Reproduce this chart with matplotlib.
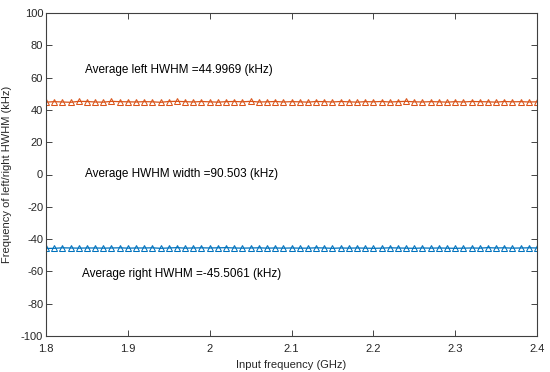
import numpy as np
import matplotlib
matplotlib.use("Agg")
import matplotlib.pyplot as plt

plt.rcParams['font.family'] = ['Liberation Sans', 'DejaVu Sans']
plt.rcParams['axes.unicode_minus'] = False

freq_ghz = [1.80, 1.81, 1.82, 1.83, 1.84, 1.85, 1.86, 1.87, 1.88, 1.89,
            1.90, 1.91, 1.92, 1.93, 1.94, 1.95, 1.96, 1.97, 1.98, 1.99,
            2.00, 2.01, 2.02, 2.03, 2.04, 2.05, 2.06, 2.07, 2.08, 2.09,
            2.10, 2.11, 2.12, 2.13, 2.14, 2.15, 2.16, 2.17, 2.18, 2.19,
            2.20, 2.21, 2.22, 2.23, 2.24, 2.25, 2.26, 2.27, 2.28, 2.29,
            2.30, 2.31, 2.32, 2.33, 2.34, 2.35, 2.36, 2.37, 2.38, 2.39, 2.40]

left_hwhm = [44.8, 45.1, 44.9, 44.7, 45.3, 45.2, 44.9, 44.8, 45.3, 45.1,
             45.0, 44.9, 45.1, 45.0, 44.7, 45.2, 45.3, 45.1, 44.9, 45.2,
             45.0, 44.8, 45.1, 45.2, 45.0, 45.3, 44.9, 45.0, 45.2, 44.9,
             45.1, 45.0, 44.8, 45.2, 45.1, 44.9, 45.2, 45.0, 44.8, 45.1,
             45.0, 45.2, 44.9, 45.1, 45.3, 45.0, 44.9, 45.1, 45.0, 44.8,
             45.1, 44.9, 45.2, 45.1, 45.0, 44.8, 45.2, 45.0, 45.1, 44.9, 45.0]

right_hwhm = [-45.8, -45.7, -45.4, -45.5, -45.6, -45.5, -45.5, -45.6, -45.5, -45.4,
              -45.6, -45.5, -45.5, -45.4, -45.7, -45.5, -45.3, -45.6, -45.5, -45.4,
              -45.5, -45.4, -45.3, -45.5, -45.6, -45.5, -45.4, -45.6, -45.5, -45.6,
              -45.5, -45.6, -45.6, -45.4, -45.5, -45.7, -45.5, -45.6, -45.5, -45.6,
              -45.7, -45.6, -45.4, -45.5, -45.6, -45.7, -45.5, -45.6, -45.5, -45.6,
              -45.7, -45.6, -45.5, -45.6, -45.3, -45.5, -45.4, -45.6, -45.5, -45.4, -45.5]

x_ticks = [1.8, 1.9, 2.0, 2.1, 2.2, 2.3, 2.4]
x_ticklabels = ['1.8', '1.9', '2', '2.1', '2.2', '2.3', '2.4']
y_ticks = [-100, -80, -60, -40, -20, 0, 20, 40, 60, 80, 100]

annotations = [
    (1.8477, 65, 'Average left HWHM =44.9969 (kHz)'),
    (1.8477, 0, 'Average HWHM width =90.503 (kHz)'),
    (1.8436, -61.5, 'Average right HWHM =-45.5061 (kHz)'),
]

fig = plt.figure(figsize=(5.5, 3.72), dpi=100)
ax = fig.add_axes([46/550, 1 - 336/372, 491/550, 323/372])

ax.plot(freq_ghz, left_hwhm, color='#D95319', marker='^', markersize=3.8,
        markerfacecolor='none', markeredgewidth=0.75, linewidth=0.9)
ax.plot(freq_ghz, right_hwhm, color='#0072BD', marker='^', markersize=3.8,
        markerfacecolor='none', markeredgewidth=0.75, linewidth=0.9)

ax.set_xlim(1.8, 2.4)
ax.set_ylim(-100, 100)
ax.set_xticks(x_ticks)
ax.set_xticklabels(x_ticklabels)
ax.set_yticks(y_ticks)
ax.tick_params(direction='in', length=4, width=0.6, labelsize=8, colors='#262626',
               top=True, right=True, labeltop=False, labelright=False, pad=2)
ax.tick_params(axis='x', pad=6)
for s in ax.spines.values():
    s.set_linewidth(0.8)
    s.set_color('#404040')

ax.set_xlabel('Input frequency (GHz)', fontsize=8, color='#262626')
ax.xaxis.set_label_coords(0.5, -0.075)
ax.set_ylabel('Frequency of left/right HWHM (kHz)', fontsize=8, color='#262626')
ax.yaxis.set_label_coords(-34/491, 0.5)

for xv, yv, txt in annotations:
    ax.text(xv, yv, txt, fontsize=8.5, color='black', va='center', ha='left')

fig.savefig('out.png', dpi=100)
